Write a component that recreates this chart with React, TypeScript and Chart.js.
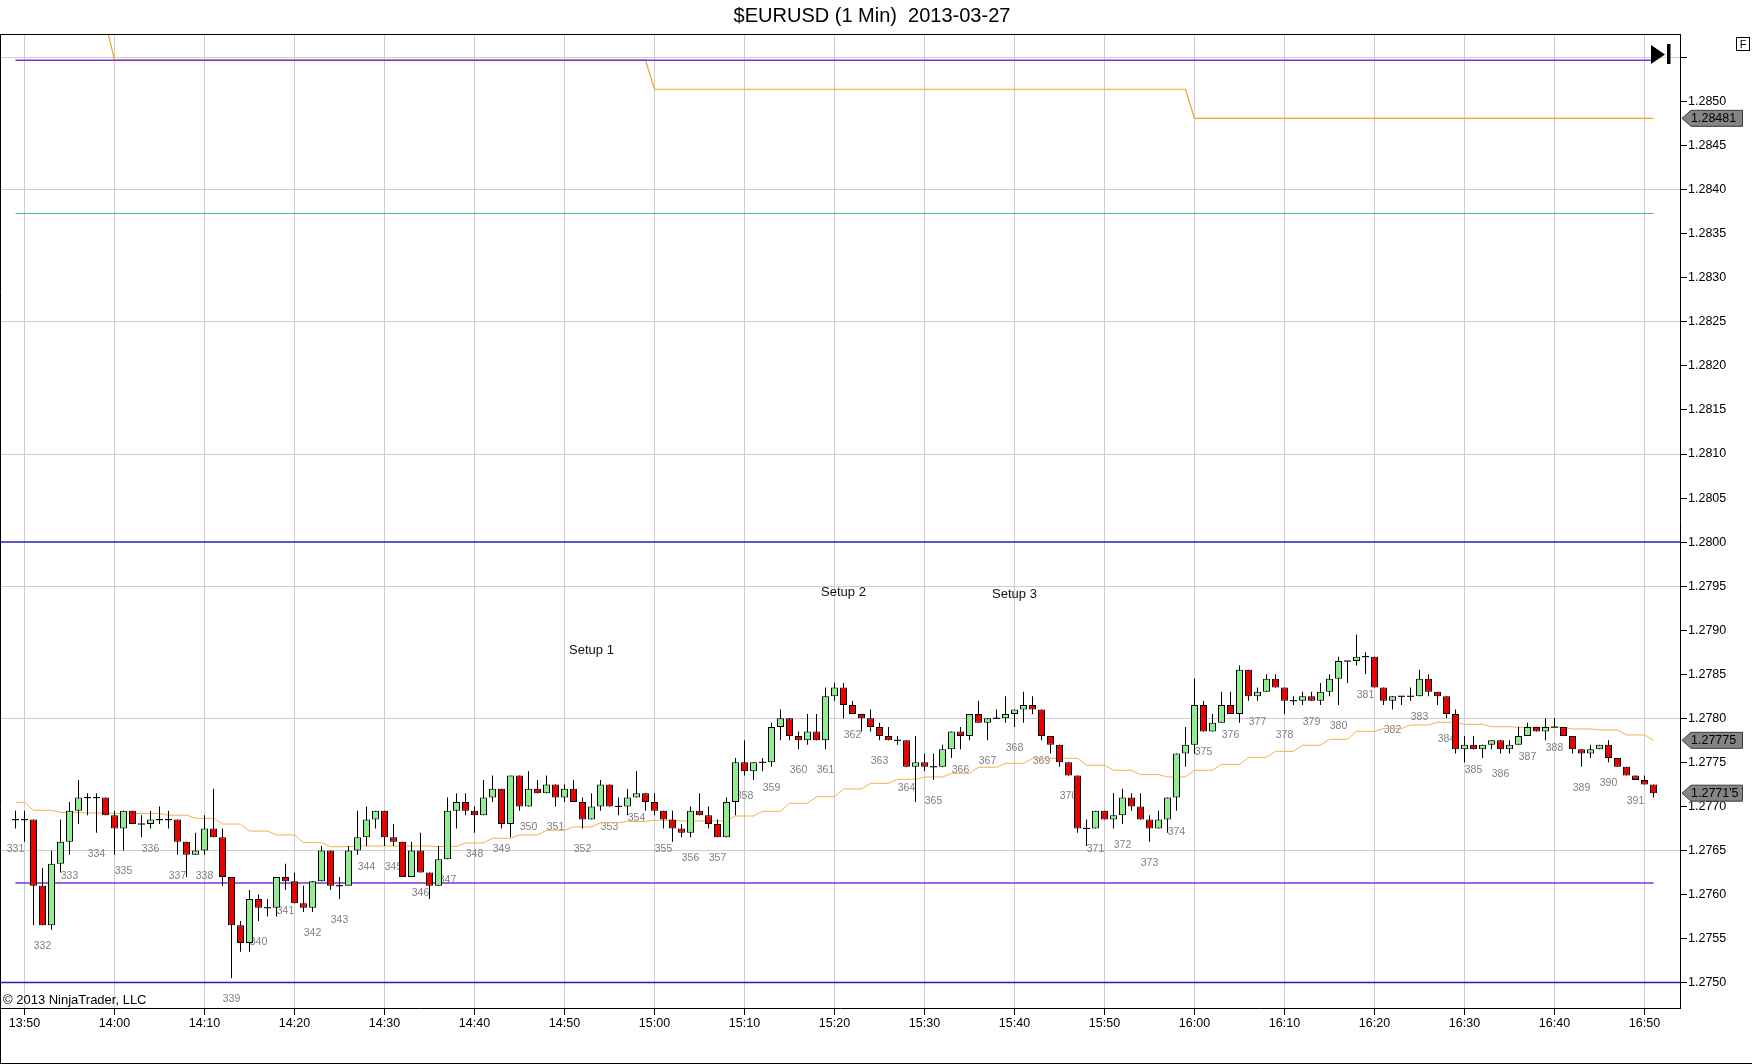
import React, { useEffect, useRef } from 'react';
import { Chart, registerables } from 'chart.js';

Chart.register(...registerables);

// ---------------- data ----------------
const chartTitle = '$EURUSD (1 Min)  2013-03-27';
const copyrightText = '\u00A9 2013 NinjaTrader, LLC';

// minute offset (from 13:50) of the first bar, i.e. 13:49
const firstBarMinute = -1;

const opens = [
  1.27685, 1.27685, 1.27685, 1.2761, 1.27565, 1.27635, 1.2766, 1.27695, 1.2771, 1.2771,
  1.2771, 1.2769, 1.27675, 1.27695, 1.2768, 1.2768, 1.27685, 1.27685, 1.27685, 1.2766,
  1.27645, 1.2765, 1.27675, 1.27665, 1.2762, 1.27565, 1.27545, 1.27595, 1.27585, 1.27585,
  1.2762, 1.27615, 1.2759, 1.27585, 1.27615, 1.2765, 1.2761, 1.2761, 1.2765, 1.27665,
  1.27685, 1.27695, 1.27665, 1.2766, 1.2762, 1.2765, 1.27625, 1.2761, 1.2764, 1.27695,
  1.27705, 1.27695, 1.2769, 1.2771, 1.2772, 1.2768, 1.27735, 1.277, 1.2772, 1.27715,
  1.27725, 1.2771, 1.2772, 1.27705, 1.27685, 1.277, 1.27725, 1.277, 1.277, 1.2771,
  1.27715, 1.27705, 1.27695, 1.27685, 1.27675, 1.2767, 1.27695, 1.2769, 1.2768, 1.27665,
  1.27705, 1.2775, 1.2774, 1.2775, 1.2775, 1.2779, 1.278, 1.2778, 1.27775, 1.27785,
  1.27775, 1.27825, 1.27835, 1.27815, 1.27805, 1.278, 1.2779, 1.2778, 1.27775, 1.27775,
  1.27745, 1.2775, 1.27745, 1.27745, 1.27765, 1.27785, 1.2778, 1.27805, 1.27795, 1.278,
  1.278, 1.27805, 1.2781, 1.27815, 1.2781, 1.2778, 1.2777, 1.2775, 1.27735, 1.27675,
  1.27675, 1.27695, 1.27685, 1.2769, 1.2771, 1.277, 1.27685, 1.27675, 1.27685, 1.2771,
  1.2776, 1.2777, 1.27815, 1.27785, 1.27795, 1.27815, 1.27805, 1.27855, 1.27825, 1.2783,
  1.27845, 1.27835, 1.2782, 1.2782, 1.27825, 1.2782, 1.2783, 1.27845, 1.27865, 1.27865,
  1.2787, 1.2787, 1.27835, 1.2782, 1.27825, 1.27825, 1.27825, 1.27845, 1.2783, 1.27825,
  1.27805, 1.27765, 1.2777, 1.27765, 1.2777, 1.27775, 1.27765, 1.2777, 1.2778, 1.2779,
  1.27785, 1.2779, 1.2779, 1.2778, 1.27765, 1.2776, 1.27765, 1.2777, 1.27755, 1.27745,
  1.27735, 1.2773, 1.27725,
];

const highs = [
  1.27695, 1.27695, 1.27685, 1.2763, 1.2765, 1.27685, 1.27705, 1.2773, 1.27715, 1.27715,
  1.2771, 1.27695, 1.27695, 1.27695, 1.2769, 1.27695, 1.277, 1.27695, 1.27685, 1.2766,
  1.2767, 1.2769, 1.2772, 1.27675, 1.2762, 1.2757, 1.27605, 1.276, 1.27595, 1.2762,
  1.27635, 1.27625, 1.2761, 1.27615, 1.27655, 1.2765, 1.2762, 1.27655, 1.27695, 1.277,
  1.27695, 1.27695, 1.2768, 1.2766, 1.2766, 1.2767, 1.27625, 1.27655, 1.2771, 1.27715,
  1.27715, 1.277, 1.2773, 1.27735, 1.2772, 1.27735, 1.27735, 1.2774, 1.2773, 1.27735,
  1.27725, 1.27725, 1.2773, 1.2771, 1.27715, 1.2773, 1.27725, 1.2771, 1.2772, 1.2774,
  1.27715, 1.27715, 1.27695, 1.27695, 1.2768, 1.277, 1.27715, 1.277, 1.27685, 1.2771,
  1.27755, 1.27775, 1.2775, 1.27755, 1.27795, 1.2781, 1.278, 1.27785, 1.27805, 1.27805,
  1.27835, 1.2784, 1.2784, 1.2782, 1.27805, 1.2781, 1.27795, 1.2779, 1.2778, 1.27775,
  1.2778, 1.2776, 1.2776, 1.2777, 1.27785, 1.2779, 1.27805, 1.2782, 1.278, 1.2781,
  1.27825, 1.2781, 1.2783, 1.27825, 1.2781, 1.2778, 1.2777, 1.2775, 1.27735, 1.27685,
  1.27695, 1.27695, 1.27715, 1.2772, 1.27715, 1.27715, 1.2769, 1.27695, 1.2771, 1.2776,
  1.2779, 1.27845, 1.2782, 1.27805, 1.2783, 1.2783, 1.2786, 1.27855, 1.27835, 1.2785,
  1.2785, 1.27835, 1.27825, 1.2783, 1.2783, 1.2784, 1.2785, 1.2787, 1.27865, 1.27895,
  1.27875, 1.2787, 1.27835, 1.27825, 1.27825, 1.27835, 1.27855, 1.2785, 1.2783, 1.27825,
  1.2781, 1.2778, 1.2778, 1.2777, 1.27775, 1.27775, 1.27775, 1.2779, 1.27795, 1.2779,
  1.278, 1.278, 1.2779, 1.2778, 1.27765, 1.2777, 1.2777, 1.27775, 1.27755, 1.27745,
  1.27735, 1.27735, 1.27725,
];

const lows = [
  1.27675, 1.2766, 1.27565, 1.27565, 1.2756, 1.27625, 1.27645, 1.2768, 1.2769, 1.2767,
  1.2769, 1.27645, 1.2765, 1.2768, 1.27665, 1.27675, 1.2768, 1.27675, 1.27645, 1.2762,
  1.27645, 1.27645, 1.27665, 1.2761, 1.27505, 1.27535, 1.27535, 1.2757, 1.27575, 1.27575,
  1.27605, 1.2759, 1.2758, 1.2758, 1.27615, 1.27605, 1.27595, 1.2761, 1.27645, 1.27655,
  1.27675, 1.27655, 1.27655, 1.2762, 1.2762, 1.27625, 1.27595, 1.2761, 1.2764, 1.27675,
  1.2769, 1.2767, 1.2769, 1.27705, 1.27675, 1.27665, 1.27695, 1.277, 1.27715, 1.27715,
  1.277, 1.27705, 1.27705, 1.27675, 1.27685, 1.27695, 1.277, 1.2769, 1.2769, 1.2771,
  1.27695, 1.2769, 1.27675, 1.2766, 1.27665, 1.27665, 1.2769, 1.27675, 1.27665, 1.27665,
  1.2769, 1.27735, 1.2773, 1.2774, 1.27745, 1.27775, 1.27775, 1.27765, 1.2777, 1.27775,
  1.27765, 1.2782, 1.278, 1.27805, 1.27785, 1.27785, 1.27775, 1.27775, 1.2777, 1.27745,
  1.27705, 1.2774, 1.2773, 1.27745, 1.27755, 1.27765, 1.27775, 1.27795, 1.27775, 1.278,
  1.27795, 1.2779, 1.27795, 1.27805, 1.27775, 1.2776, 1.27745, 1.27735, 1.2767, 1.27655,
  1.27675, 1.27685, 1.27675, 1.2768, 1.27695, 1.27685, 1.2766, 1.27675, 1.2767, 1.27695,
  1.27745, 1.2776, 1.27785, 1.27785, 1.27795, 1.27805, 1.27795, 1.2782, 1.2782, 1.2783,
  1.27835, 1.27805, 1.27815, 1.27815, 1.2782, 1.27815, 1.27825, 1.27815, 1.2784, 1.2786,
  1.2785, 1.27835, 1.27815, 1.2781, 1.27815, 1.2782, 1.27825, 1.27825, 1.27815, 1.278,
  1.2776, 1.2775, 1.27765, 1.27755, 1.27765, 1.2776, 1.2776, 1.2777, 1.2778, 1.27785,
  1.27775, 1.2779, 1.2778, 1.2776, 1.27745, 1.27755, 1.27765, 1.2775, 1.27745, 1.27735,
  1.2773, 1.27725, 1.2771,
];

const closes = [
  1.27685, 1.27685, 1.2761, 1.27565, 1.27635, 1.2766, 1.27695, 1.2771, 1.2771, 1.2771,
  1.2769, 1.27675, 1.27695, 1.2768, 1.2768, 1.27685, 1.27685, 1.27685, 1.2766, 1.27645,
  1.2765, 1.27675, 1.27665, 1.2762, 1.27565, 1.27545, 1.27595, 1.27585, 1.27585, 1.2762,
  1.27615, 1.2759, 1.27585, 1.27615, 1.2765, 1.2761, 1.2761, 1.2765, 1.27665, 1.27685,
  1.27695, 1.27665, 1.2766, 1.2762, 1.2765, 1.27625, 1.2761, 1.2764, 1.27695, 1.27705,
  1.27695, 1.2769, 1.2771, 1.2772, 1.2768, 1.27735, 1.277, 1.2772, 1.27715, 1.27725,
  1.2771, 1.2772, 1.27705, 1.27685, 1.277, 1.27725, 1.277, 1.277, 1.2771, 1.27715,
  1.27705, 1.27695, 1.27685, 1.27675, 1.2767, 1.27695, 1.2769, 1.2768, 1.27665, 1.27705,
  1.2775, 1.2774, 1.2775, 1.2775, 1.2779, 1.278, 1.2778, 1.27775, 1.27785, 1.27775,
  1.27825, 1.27835, 1.27815, 1.27805, 1.278, 1.2779, 1.2778, 1.27775, 1.27775, 1.27745,
  1.2775, 1.27745, 1.27745, 1.27765, 1.27785, 1.2778, 1.27805, 1.27795, 1.278, 1.278,
  1.27805, 1.2781, 1.27815, 1.2781, 1.2778, 1.2777, 1.2775, 1.27735, 1.27675, 1.27675,
  1.27695, 1.27685, 1.2769, 1.2771, 1.277, 1.27685, 1.27675, 1.27685, 1.2771, 1.2776,
  1.2777, 1.27815, 1.27785, 1.27795, 1.27815, 1.27805, 1.27855, 1.27825, 1.2783, 1.27845,
  1.27835, 1.2782, 1.2782, 1.27825, 1.2782, 1.2783, 1.27845, 1.27865, 1.27865, 1.2787,
  1.2787, 1.27835, 1.2782, 1.27825, 1.27825, 1.27825, 1.27845, 1.2783, 1.27825, 1.27805,
  1.27765, 1.2777, 1.27765, 1.2777, 1.27775, 1.27765, 1.2777, 1.2778, 1.2779, 1.27785,
  1.2779, 1.2779, 1.2778, 1.27765, 1.2776, 1.27765, 1.2777, 1.27755, 1.27745, 1.27735,
  1.2773, 1.27725, 1.27715,
];

const movingAverage = [
  1.277047, 1.277047, 1.276956, 1.276956, 1.276956, 1.27693, 1.27693, 1.27693, 1.276925, 1.276925,
  1.276925, 1.27692, 1.27692, 1.27692, 1.27692, 1.27692, 1.27692, 1.2769, 1.2769, 1.2769,
  1.276865, 1.276865, 1.276865, 1.2768, 1.2768, 1.2768, 1.27672, 1.27672, 1.27672, 1.276676,
  1.276676, 1.276676, 1.276589, 1.276589, 1.276589, 1.276543, 1.276543, 1.276543, 1.27655, 1.27655,
  1.27655, 1.27655, 1.27655, 1.27655, 1.27655, 1.27655, 1.27655, 1.276545, 1.276545, 1.276545,
  1.276585, 1.276585, 1.276585, 1.276638, 1.276638, 1.276638, 1.276676, 1.276676, 1.276676, 1.276729,
  1.276729, 1.276729, 1.276767, 1.276767, 1.276767, 1.276816, 1.276816, 1.276816, 1.27683, 1.27683,
  1.27683, 1.276842, 1.276842, 1.276842, 1.276835, 1.276835, 1.276835, 1.276835, 1.276835, 1.276835,
  1.276891, 1.276891, 1.276891, 1.276944, 1.276944, 1.276944, 1.277035, 1.277035, 1.277035, 1.27711,
  1.27711, 1.27711, 1.277198, 1.277198, 1.277198, 1.277262, 1.277262, 1.277262, 1.277308, 1.277308,
  1.277308, 1.277334, 1.277334, 1.277334, 1.277376, 1.277376, 1.277376, 1.277444, 1.277444, 1.277444,
  1.277489, 1.277489, 1.277489, 1.277546, 1.277546, 1.277546, 1.277546, 1.277546, 1.277546, 1.277467,
  1.277467, 1.277467, 1.27741, 1.27741, 1.27741, 1.277361, 1.277361, 1.277361, 1.277334, 1.277334,
  1.277334, 1.27741, 1.27741, 1.27741, 1.277478, 1.277478, 1.277478, 1.277557, 1.277557, 1.277557,
  1.277625, 1.277625, 1.277625, 1.277694, 1.277694, 1.277694, 1.277762, 1.277762, 1.277762, 1.277852,
  1.277852, 1.277852, 1.277883, 1.277883, 1.277883, 1.277924, 1.277924, 1.277924, 1.277955, 1.277955,
  1.277955, 1.277932, 1.277932, 1.277932, 1.277905, 1.277905, 1.277905, 1.277898, 1.277898, 1.277898,
  1.277898, 1.277898, 1.277898, 1.277879, 1.277879, 1.277879, 1.277868, 1.277868, 1.277868, 1.277811,
  1.277811, 1.277811, 1.27775,
];

// bar counter labels, one every third bar starting at the first bar
const barNumbers = [
  331, 332, 333, 334, 335, 336, 337, 338, 339, 340,
  341, 342, 343, 344, 345, 346, 347, 348, 349, 350,
  351, 352, 353, 354, 355, 356, 357, 358, 359, 360,
  361, 362, 363, 364, 365, 366, 367, 368, 369, 370,
  371, 372, 373, 374, 375, 376, 377, 378, 379, 380,
  381, 382, 383, 384, 385, 386, 387, 388, 389, 390, 391,
];
const barNumberEvery = 3;

const timeTickLabels = [
  '13:50', '14:00', '14:10', '14:20', '14:30', '14:40', '14:50', '15:00', '15:10', '15:20',
  '15:30', '15:40', '15:50', '16:00', '16:10', '16:20', '16:30', '16:40', '16:50',
];
const timeTickEvery = 10;

const priceTicks = [
  1.275, 1.2755, 1.276, 1.2765, 1.277, 1.2775, 1.278, 1.2785, 1.279, 1.2795, 1.28,
  1.2805, 1.281, 1.2815, 1.282, 1.2825, 1.283, 1.2835, 1.284, 1.2845, 1.285, 1.2855,
];
const priceTickLabels = [
  '1.2750', '1.2755', '1.2760', '1.2765', '1.2770', '1.2775', '1.2780', '1.2785', '1.2790', '1.2795', '1.2800',
  '1.2805', '1.2810', '1.2815', '1.2820', '1.2825', '1.2830', '1.2835', '1.2840', '1.2845', '1.2850', '',
];
const gridPrices = [1.275, 1.2765, 1.278, 1.2795, 1.281, 1.2825, 1.284, 1.2855];

// upper orange step line
const stepLineMinutes = [-1, 9, 10, 69, 70, 129, 130, 181];
const stepLineValues = [1.2859, 1.2859, 1.28547, 1.28547, 1.28514, 1.28514, 1.28481, 1.28481];

const upperPurpleLevel = 1.28547;
const tealLevel = 1.28373;
const lowerPurpleLevel = 1.27613;
const blueLevels = [1.28, 1.275];

const setupLabels = ['Setup 1', 'Setup 2', 'Setup 3'];
const setupMinutes = [63, 91, 110];
const setupPrices = [1.27877, 1.27943, 1.27941];

// ---------------- layout / style ----------------
const W = 1752;
const H = 1064;
const PLOT_TOP = 34;
const PLOT_BOTTOM = 1008;
const PLOT_RIGHT = 1680;
const PX_PER_MIN = 9;
const FIRST_TICK_PX = 24.5;
const X_MIN = -FIRST_TICK_PX / PX_PER_MIN;
const X_MAX = X_MIN + PLOT_RIGHT / PX_PER_MIN;
const PX_PER_PRICE = 88100;
const Y_MAX = 1.278 + (718.3 - PLOT_TOP) / PX_PER_PRICE;
const Y_MIN = Y_MAX - (PLOT_BOTTOM - PLOT_TOP) / PX_PER_PRICE;

const FONT = '"Liberation Sans", Arial, Helvetica, sans-serif';
const UP = '#90ee90';
const DOWN = '#ec0000';
const GRID = '#cdcdcd';

const lastIdx = closes.length - 1;
const barMinutes = closes.map((_, i) => firstBarMinute + i);
const lastBarMinute = barMinutes[lastIdx];

const fmtClose = (v: number) => {
  const s = v.toFixed(5);
  return s.slice(0, 6) + "'" + s.slice(6);
};

const decorPlugin = {
  id: 'ninjaDecor',
  beforeDatasetsDraw(chart: any) {
    const { ctx, scales } = chart;
    const x = scales.x;
    const y = scales.y;
    ctx.save();
    ctx.font = `10.5px ${FONT}`;
    ctx.fillStyle = '#808080';
    ctx.textAlign = 'center';
    ctx.textBaseline = 'middle';
    barNumbers.forEach((n, i) => {
      const idx = i * barNumberEvery;
      const px = x.getPixelForValue(barMinutes[idx]);
      const py = y.getPixelForValue(lows[idx]) + 21;
      ctx.fillText(String(n), px, py);
    });
    ctx.restore();
  },
  afterDraw(chart: any) {
    const { ctx, scales } = chart;
    const x = scales.x;
    const y = scales.y;
    ctx.save();

    // setup annotations
    ctx.font = `13px ${FONT}`;
    ctx.fillStyle = '#111';
    ctx.textAlign = 'center';
    ctx.textBaseline = 'middle';
    setupLabels.forEach((t, i) => {
      ctx.fillText(t, x.getPixelForValue(setupMinutes[i]), y.getPixelForValue(setupPrices[i]));
    });

    // copyright
    ctx.textAlign = 'left';
    ctx.font = `13px ${FONT}`;
    ctx.fillStyle = '#000';
    ctx.fillText(copyrightText, 3, 1000);

    // title
    ctx.textAlign = 'center';
    ctx.font = `20px ${FONT}`;
    ctx.fillText(chartTitle, W / 2 - 4, 16);

    // frame
    ctx.strokeStyle = '#000';
    ctx.lineWidth = 1;
    ctx.beginPath();
    ctx.moveTo(0, PLOT_TOP + 0.5);
    ctx.lineTo(PLOT_RIGHT, PLOT_TOP + 0.5);
    ctx.moveTo(0.5, PLOT_TOP);
    ctx.lineTo(0.5, H);
    ctx.moveTo(0, H - 0.5);
    ctx.lineTo(W, H - 0.5);
    ctx.stroke();

    // "go to last bar" icon
    ctx.fillStyle = '#000';
    ctx.beginPath();
    ctx.moveTo(1651, 45);
    ctx.lineTo(1665, 54.5);
    ctx.lineTo(1651, 64);
    ctx.closePath();
    ctx.fill();
    ctx.fillRect(1667, 44, 3.5, 20);

    // "F" box
    ctx.fillStyle = '#fff';
    ctx.fillRect(1736, 37, 14, 13);
    ctx.strokeRect(1736.5, 37.5, 13, 13);
    ctx.fillStyle = '#000';
    ctx.font = `11px ${FONT}`;
    ctx.textAlign = 'center';
    ctx.fillText('F', 1743, 44.5);

    // price markers
    const marker = (value: number, text: string) => {
      const yc = y.getPixelForValue(value);
      const h = 8;
      ctx.beginPath();
      ctx.moveTo(1682, yc);
      ctx.lineTo(1691, yc - h);
      ctx.lineTo(1742.5, yc - h);
      ctx.lineTo(1742.5, yc + h);
      ctx.lineTo(1691, yc + h);
      ctx.closePath();
      ctx.fillStyle = '#858585';
      ctx.fill();
      ctx.strokeStyle = '#3c3c3c';
      ctx.lineWidth = 1;
      ctx.stroke();
      ctx.fillStyle = '#000';
      ctx.font = `12.5px ${FONT}`;
      ctx.textAlign = 'left';
      ctx.textBaseline = 'middle';
      ctx.fillText(text, 1691, yc + 0.5);
    };
    marker(stepLineValues[stepLineValues.length - 1], stepLineValues[stepLineValues.length - 1].toFixed(5));
    marker(movingAverage[lastIdx], movingAverage[lastIdx].toFixed(5));
    marker(closes[lastIdx], fmtClose(closes[lastIdx]));

    ctx.restore();
  },
};

export default function App() {
  const canvasRef = useRef<HTMLCanvasElement | null>(null);

  useEffect(() => {
    document.body.style.margin = '0';
    document.body.style.overflow = 'hidden';
    const canvas = canvasRef.current;
    if (!canvas) return;

    const dojiHalf = 0.55 / PX_PER_PRICE;
    const isDoji = (i: number) => opens[i] === closes[i];

    const wickData = barMinutes.map((m, i) => ({ x: m, y: [lows[i], highs[i]] }));
    const bodyData = barMinutes.map((m, i) =>
      isDoji(i)
        ? { x: m, y: [opens[i] - dojiHalf, opens[i] + dojiHalf] }
        : { x: m, y: [Math.min(opens[i], closes[i]), Math.max(opens[i], closes[i])] }
    );
    const bodyColors = barMinutes.map((_, i) =>
      isDoji(i) ? '#000' : closes[i] > opens[i] ? UP : DOWN
    );

    const spanLine = (v: number) => [
      { x: barMinutes[0], y: v },
      { x: lastBarMinute, y: v },
    ];
    const fullLine = (v: number) => [
      { x: X_MIN, y: v },
      { x: X_MAX, y: v },
    ];
    const lineBase = {
      type: 'line' as const,
      pointRadius: 0,
      pointHoverRadius: 0,
      tension: 0,
      fill: false,
    };

    const chart = new Chart(canvas, {
      type: 'bar',
      data: {
        datasets: [
          ...blueLevels.map((v) => ({
            ...lineBase,
            label: 'level ' + v,
            data: fullLine(v),
            borderColor: '#2323b4',
            borderWidth: 1.5,
            order: 10,
          })),
          {
            ...lineBase,
            label: 'teal level',
            data: spanLine(tealLevel),
            borderColor: '#45b5a8',
            borderWidth: 1,
            order: 9,
          },
          {
            ...lineBase,
            label: 'step line',
            data: stepLineMinutes.map((m, i) => ({ x: m, y: stepLineValues[i] })),
            borderColor: '#f2a126',
            borderWidth: 1.2,
            order: 8,
          },
          {
            ...lineBase,
            label: 'upper purple',
            data: spanLine(upperPurpleLevel),
            borderColor: '#7436dc',
            borderWidth: 1.6,
            order: 7,
          },
          {
            ...lineBase,
            label: 'lower purple',
            data: spanLine(lowerPurpleLevel),
            borderColor: '#7436dc',
            borderWidth: 1.6,
            order: 7,
          },
          {
            ...lineBase,
            label: 'MA',
            data: barMinutes.map((m, i) => ({ x: m, y: movingAverage[i] })),
            borderColor: '#f5b04c',
            borderWidth: 1,
            order: 6,
          },
          {
            type: 'bar' as const,
            label: 'wicks',
            data: wickData as any,
            backgroundColor: '#000',
            borderWidth: 0,
            barThickness: 1,
            grouped: false,
            inflateAmount: 0,
            order: 2,
          },
          {
            type: 'bar' as const,
            label: 'bodies',
            data: bodyData as any,
            backgroundColor: bodyColors,
            borderColor: '#000',
            borderWidth: (ctx: any) => (isDoji(ctx.dataIndex) ? 0 : 1),
            borderSkipped: false,
            barThickness: 7,
            grouped: false,
            inflateAmount: 0,
            order: 1,
          },
        ] as any,
      },
      options: {
        responsive: false,
        animation: false,
        devicePixelRatio: 1,
        events: [],
        layout: { padding: { top: PLOT_TOP, left: 0, right: 0, bottom: 0 } },
        plugins: {
          legend: { display: false },
          title: { display: false },
          tooltip: { enabled: false },
        },
        scales: {
          x: {
            type: 'linear',
            position: 'bottom',
            min: X_MIN,
            max: X_MAX,
            offset: false,
            afterBuildTicks: (s: any) => {
              s.ticks = timeTickLabels.map((_, i) => ({ value: i * timeTickEvery }));
            },
            afterFit: (s: any) => {
              s.height = H - PLOT_BOTTOM;
            },
            ticks: {
              autoSkip: false,
              maxRotation: 0,
              minRotation: 0,
              padding: 1,
              color: '#000',
              font: { family: FONT, size: 12.5 },
              callback: (_v: any, i: number) => timeTickLabels[i],
            },
            grid: {
              color: GRID,
              tickColor: '#000',
              tickLength: 7,
              drawTicks: true,
              offset: false,
            },
            border: { display: true, color: '#000', width: 1 },
          },
          y: {
            type: 'linear',
            position: 'right',
            min: Y_MIN,
            max: Y_MAX,
            afterBuildTicks: (s: any) => {
              s.ticks = priceTicks.map((v) => ({ value: v }));
            },
            afterFit: (s: any) => {
              s.width = W - PLOT_RIGHT;
            },
            ticks: {
              autoSkip: false,
              padding: 1,
              color: '#000',
              font: { family: FONT, size: 12.5 },
              callback: (_v: any, i: number) => priceTickLabels[i],
            },
            grid: {
              color: (c: any) =>
                c.tick && gridPrices.includes(c.tick.value) ? GRID : 'rgba(0,0,0,0)',
              tickColor: '#000',
              tickLength: 7,
              drawTicks: true,
            },
            border: { display: true, color: '#000', width: 1 },
          },
        },
      } as any,
      plugins: [decorPlugin],
    });

    return () => {
      chart.destroy();
    };
  }, []);

  return (
    <div style={{ width: W, height: H, position: 'relative', background: '#fff' }}>
      <canvas
        ref={canvasRef}
        width={W}
        height={H}
        style={{ display: 'block', width: W, height: H }}
      />
    </div>
  );
}
